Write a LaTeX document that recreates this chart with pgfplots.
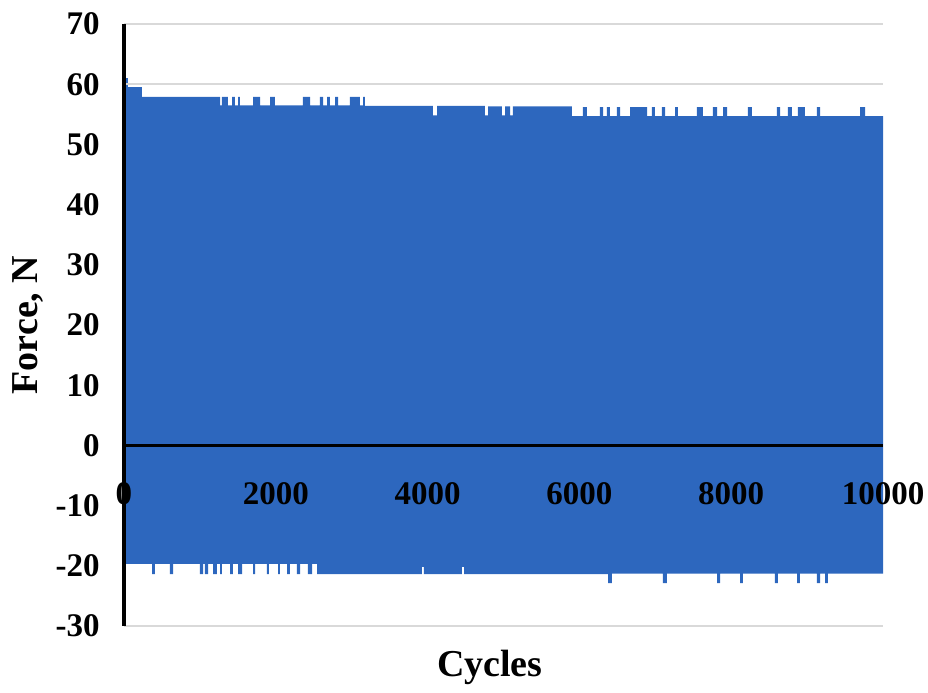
\documentclass[border=0pt]{standalone}
\usepackage{pgfplots}
\pgfplotsset{compat=1.18}
\usepgfplotslibrary{fillbetween}
\usepackage{fontspec}
\setmainfont{Liberation Serif}
\definecolor{fillblue}{RGB}{45,103,190}
\definecolor{gridgray}{RGB}{217,217,217}

\pgfplotstableread{
x y
0 61.0
50 59.5
237 57.9
1265 56.5
1291 57.9
1370 56.5
1423 57.9
1462 56.5
1502 57.9
1528 56.5
1700 57.9
1792 56.5
1924 57.9
1989 56.5
2358 57.9
2451 56.5
2582 57.9
2622 56.5
2675 57.9
2714 56.5
2780 57.9
2820 56.5
2977 57.9
3109 56.5
3149 57.9
3175 56.4
4071 54.8
4124 56.4
4756 54.8
4796 56.3
4980 54.8
5020 56.3
5086 54.8
5125 56.3
5902 54.7
6047 56.2
6100 54.7
6271 56.2
6311 54.7
6363 56.2
6403 54.7
6495 56.2
6535 54.7
6667 56.2
6891 54.7
6956 56.2
6996 54.7
7088 56.2
7128 54.7
7260 56.2
7299 54.7
7549 56.2
7628 54.7
7760 56.2
7813 54.7
7892 56.2
7945 54.7
8221 56.2
8274 54.7
8603 56.2
8643 54.7
8748 56.2
8801 54.7
8880 56.2
8972 54.7
9130 56.2
9170 54.7
9697 56.2
9763 54.7
10000 54.7
}\upperdata

\pgfplotstableread{
x y
0 -19.7
369 -21.4
408 -19.7
606 -21.4
646 -19.7
1001 -21.4
1041 -19.7
1067 -21.4
1107 -19.7
1173 -21.4
1225 -19.7
1265 -21.4
1291 -19.7
1397 -21.4
1436 -19.7
1502 -21.4
1555 -19.7
1700 -21.4
1726 -19.7
1884 -21.4
1910 -19.7
2029 -21.4
2055 -19.7
2148 -21.4
2187 -19.7
2279 -21.4
2319 -19.7
2424 -21.4
2477 -19.7
2543 -21.4
3926 -20.2
3952 -21.4
4453 -20.2
4480 -21.4
6377 -22.9
6429 -21.3
7101 -22.9
7154 -21.3
7813 -22.9
7853 -21.3
8116 -22.9
8155 -21.3
8577 -22.9
8616 -21.3
8867 -22.9
8906 -21.3
9130 -22.9
9170 -21.3
9236 -22.9
9275 -21.3
10000 -21.3
}\lowerdata

\begin{document}
\begin{tikzpicture}
\begin{axis}[
  name=ax,
  scale only axis,
  width=379.5pt, height=301pt,
  xmin=0, xmax=10000, ymin=-30, ymax=70,
  axis on top=true,
  axis x line=middle,
  axis y line=left,
  x axis line style={-, line width=1.6pt, black},
  y axis line style={-, line width=1.6pt, black},
  hide obscured x ticks=false,
  hide obscured y ticks=false,
  scaled x ticks=false,
  scaled y ticks=false,
  major tick length=0pt,
  xtick={0,2000,4000,6000,8000,10000},
  xticklabels={0,2000,4000,6000,8000,10000},
  ytick={-30,-20,-10,0,10,20,30,40,50,60,70},
  yticklabels={-30,-20,-10,0,10,20,30,40,50,60,70},
  extra y ticks={-30,60,70},
  extra y tick labels={},
  extra y tick style={grid=major, major grid style={gridgray, line width=0.9pt}},
  xticklabel style={anchor=north, inner sep=0pt, yshift=-18.5pt, font=\fontsize{16.5}{20}\selectfont\bfseries},
  yticklabel style={anchor=east, inner sep=0pt, xshift=-12pt, font=\fontsize{16.5}{20}\selectfont\bfseries},
  every axis x label/.style={at={(rel axis cs:0.482,-0.068)}, anchor=center, font=\fontsize{19}{23}\selectfont\bfseries},
  every axis y label/.style={at={(rel axis cs:-0.1265,0.5)}, rotate=90, anchor=center, font=\fontsize{19}{23}\selectfont\bfseries},
  xlabel={Cycles},
  ylabel={Force, N},
  clip=false,
]
\addplot[name path=U, const plot, draw=none] table[x=x,y=y] {\upperdata};
\addplot[name path=L, const plot, draw=none] table[x=x,y=y] {\lowerdata};
\addplot[fill=fillblue, draw=none] fill between[of=U and L];
\end{axis}
\pgfresetboundingbox
\path[use as bounding box] ([xshift=-62pt,yshift=-33.5pt]ax.south west) rectangle ([xshift=22.5pt,yshift=12pt]ax.north east);
\end{tikzpicture}
\end{document}
